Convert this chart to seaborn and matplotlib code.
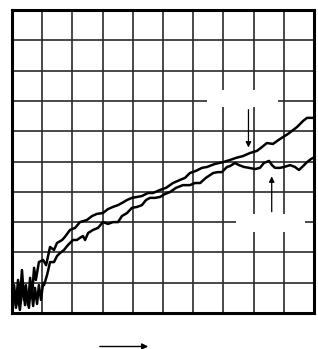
import matplotlib
matplotlib.use("Agg")
import matplotlib.pyplot as plt
import seaborn as sns
import pandas as pd
from matplotlib.patches import Rectangle

sns.set_theme(style="white")

# Upper trace (data units: 10 x 10 graticule)
upper_x = [0.0, 0.07, 0.13, 0.2, 0.26, 0.33, 0.4, 0.46, 0.53, 0.6, 0.66, 0.73, 0.79, 0.89,
           1.03, 1.13, 1.26, 1.39, 1.49, 1.66, 1.75, 1.92, 2.09, 2.25, 2.48, 2.65, 2.81,
           3.01, 3.18, 3.34, 3.51, 3.64, 3.81, 3.97, 4.14, 4.3, 4.5, 4.67, 4.9, 5.1, 5.33,
           5.56, 5.73, 5.89, 6.09, 6.29, 6.46, 6.72, 6.99, 7.22, 7.42, 7.65, 7.88, 8.11,
           8.28, 8.44, 8.64, 8.87, 9.14, 9.44, 9.64, 9.77, 9.97]
upper_y = [0.43, 0.92, 0.26, 1.09, 0.43, 1.42, 0.43, 0.92, 0.26, 1.16, 0.5, 1.49, 1.09, 1.68,
           1.75, 1.58, 2.18, 2.08, 2.31, 2.41, 2.51, 2.74, 2.81, 3.0, 3.07, 3.2, 3.27,
           3.3, 3.43, 3.5, 3.56, 3.63, 3.73, 3.8, 3.83, 3.86, 3.96, 3.96, 4.06, 4.13, 4.29,
           4.39, 4.46, 4.62, 4.69, 4.79, 4.82, 4.92, 4.98, 5.05, 5.12, 5.18, 5.28, 5.35,
           5.48, 5.61, 5.58, 5.74, 5.91, 6.14, 6.34, 6.44, 6.44]

# Lower trace
lower_x = [0.0, 0.07, 0.13, 0.2, 0.26, 0.36, 0.43, 0.5, 0.56, 0.63, 0.7, 0.76, 0.83, 0.89,
           0.96, 1.03, 1.06, 1.16, 1.26, 1.39, 1.49, 1.59, 1.72, 1.85, 2.02, 2.15, 2.25,
           2.35, 2.42, 2.52, 2.68, 2.85, 3.01, 3.18, 3.34, 3.51, 3.64, 3.81, 3.97, 4.14,
           4.3, 4.44, 4.57, 4.74, 4.9, 5.07, 5.23, 5.43, 5.66, 5.89, 6.06, 6.23, 6.42,
           6.66, 6.82, 6.95, 7.12, 7.22, 7.38, 7.52, 7.68, 7.85, 8.05, 8.21, 8.34, 8.51,
           8.61, 8.71, 8.87, 9.01, 9.21, 9.37, 9.5, 9.64, 9.77, 9.9, 9.97]
lower_y = [0.26, 0.76, 0.17, 0.59, 0.1, 0.92, 0.26, 0.69, 0.17, 0.92, 0.23, 0.83, 0.3, 0.92,
           0.43, 0.99, 0.92, 1.25, 1.68, 1.68, 1.88, 1.98, 2.08, 2.24, 2.41, 2.41, 2.48,
           2.54, 2.41, 2.64, 2.74, 2.81, 3.0, 2.94, 3.0, 3.0, 3.2, 3.3, 3.47, 3.5,
           3.56, 3.73, 3.8, 3.8, 3.83, 3.93, 3.99, 4.13, 4.22, 4.22, 4.29, 4.29, 4.46,
           4.62, 4.65, 4.65, 4.82, 4.85, 4.95, 4.88, 4.82, 4.79, 4.75, 4.79, 4.95, 5.02,
           4.88, 4.79, 4.79, 4.82, 4.88, 4.82, 4.72, 4.85, 4.98, 5.08, 5.12]

df_u = pd.DataFrame({"x": upper_x, "y": upper_y})
df_l = pd.DataFrame({"x": lower_x, "y": lower_y})

fig = plt.figure(figsize=(3.18, 3.49), dpi=100)
ax = fig.add_axes([12 / 318, 36 / 349, 302 / 318, 303 / 349])

ax.set_xlim(0, 10)
ax.set_ylim(0, 10)
ax.set_xticks(range(11))
ax.set_yticks(range(11))
ax.grid(True, color="#2a2a2a", linewidth=1.2)
ax.tick_params(left=False, bottom=False, labelleft=False, labelbottom=False)
for s in ax.spines.values():
    s.set_color("black")
    s.set_linewidth(2.2)
ax.set_axisbelow(True)

# blanked label areas
ax.add_patch(Rectangle((6.46, 6.8), 2.35, 0.56, facecolor="white", edgecolor="none", zorder=1.5))
ax.add_patch(Rectangle((7.42, 2.67), 2.28, 0.6, facecolor="white", edgecolor="none", zorder=1.5))

sns.lineplot(data=df_u, x="x", y="y", sort=False, color="black", linewidth=1.8, ax=ax, zorder=3)
sns.lineplot(data=df_l, x="x", y="y", sort=False, color="black", linewidth=1.8, ax=ax, zorder=3)
ax.set_xlabel("")
ax.set_ylabel("")

# pointer arrows
ax.annotate("", xy=(7.83, 5.37), xytext=(7.83, 6.8),
            arrowprops=dict(arrowstyle="-|>", color="black", lw=0.9, mutation_scale=8), zorder=4)
ax.annotate("", xy=(8.6, 4.6), xytext=(8.6, 3.25),
            arrowprops=dict(arrowstyle="-|>", color="black", lw=0.9, mutation_scale=8), zorder=4)

# direction arrow below the graticule
fig.add_artist(matplotlib.patches.FancyArrowPatch(
    (97 / 318, 2.5 / 349), (151 / 318, 2.5 / 349), transform=fig.transFigure,
    arrowstyle="-|>", color="black", lw=1.0, mutation_scale=9))

fig.savefig("out.png", dpi=100)
